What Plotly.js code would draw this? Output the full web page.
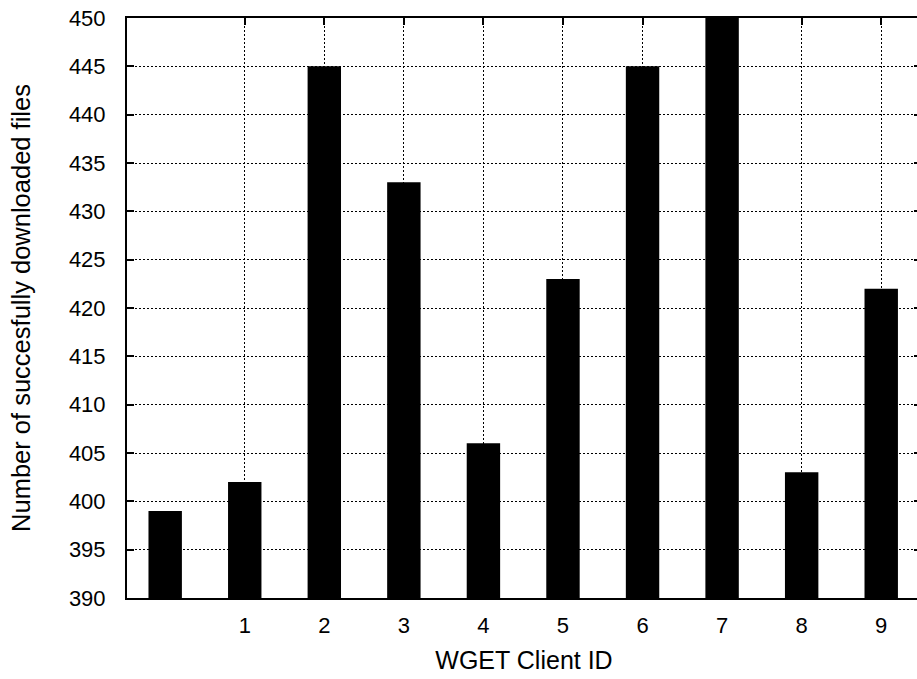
<!DOCTYPE html>
<html>
<head>
<meta charset="utf-8">
<script src="https://cdn.plot.ly/plotly-3.0.1.min.js"></script>
<style>
  html, body { margin: 0; padding: 0; overflow: hidden; background: #fff; }
  #chart { width: 921px; height: 679px; }
</style>
</head>
<body>
<div id="chart"></div>
<script>
// WGET clients and the number of files each one downloaded successfully
const clientIds = [0, 1, 2, 3, 4, 5, 6, 7, 8, 9];
const downloadedFiles = [399, 402, 445, 433, 406, 423, 445, 450, 403, 422];
const xTickValues = [1, 2, 3, 4, 5, 6, 7, 8, 9];
const xTickLabels = ['1', '2', '3', '4', '5', '6', '7', '8', '9'];
const yTickValues = [390, 395, 400, 405, 410, 415, 420, 425, 430, 435, 440, 445, 450];

const font = 'Liberation Sans, Arial, sans-serif';

const trace = {
  type: 'bar',
  x: clientIds,
  y: downloadedFiles,
  width: 0.42,
  marker: { color: '#000', line: { width: 0 } },
  hoverinfo: 'x+y'
};

const layout = {
  width: 921,
  height: 679,
  margin: { l: 127, r: 0, t: 18, b: 81 },
  paper_bgcolor: '#fff',
  plot_bgcolor: '#fff',
  showlegend: false,
  font: { family: font, size: 22, color: '#000' },
  xaxis: {
    type: 'linear',
    range: [-0.48, 9.5],
    tickvals: xTickValues,
    ticktext: xTickLabels,
    ticks: 'inside',
    ticklen: 7,
    tickwidth: 2,
    tickcolor: '#000',
    showline: true,
    linecolor: '#000',
    linewidth: 2,
    mirror: 'ticks',
    showgrid: true,
    gridcolor: '#000',
    gridwidth: 1,
    griddash: '2px,2px',
    zeroline: false,
    tickfont: { family: font, size: 22 },
    ticklabelstandoff: 7,
    title: { text: 'WGET Client ID', font: { family: font, size: 25 }, standoff: 14 }
  },
  yaxis: {
    range: [390, 450],
    tickvals: yTickValues,
    ticks: 'inside',
    ticklen: 7,
    tickwidth: 2,
    tickcolor: '#000',
    showline: true,
    linecolor: '#000',
    linewidth: 2,
    mirror: 'ticks',
    showgrid: true,
    gridcolor: '#000',
    gridwidth: 1,
    griddash: '2px,2px',
    zeroline: false,
    tickfont: { family: font, size: 22 },
    ticklabelstandoff: 15,
    title: { text: 'Number of succesfully downloaded files', font: { family: font, size: 25.5 }, standoff: 31 }
  }
};

Plotly.newPlot('chart', [trace], layout, { displayModeBar: false, staticPlot: true });
</script>
</body>
</html>
